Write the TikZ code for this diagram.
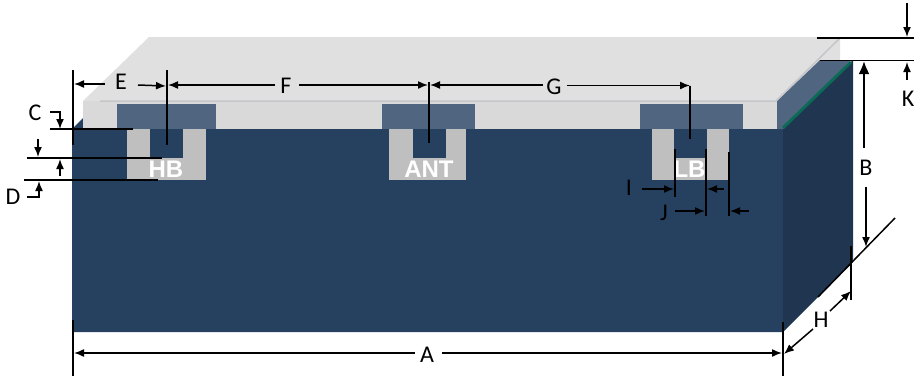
\documentclass[tikz,border=0pt]{standalone}
\usepackage{fontspec}
\setmainfont{Carlito}
\newfontfamily\slotfont{Liberation Sans}
\usetikzlibrary{arrows.meta}
\definecolor{frontc}{HTML}{26405F}
\definecolor{sidec}{HTML}{1F3550}
\definecolor{patchc}{HTML}{50657F}
\definecolor{slotc}{HTML}{BFBFBF}
\definecolor{topc}{HTML}{E0E0E0}
\definecolor{slabc}{HTML}{D9D9D9}
\definecolor{edgec}{HTML}{C4C6CA}
\definecolor{greenc}{HTML}{0B6B57}
\tikzset{
  dimline/.style={draw=black,line width=1.5pt},
  dimarrow/.style={draw=black,line width=1.5pt,-{Latex[length=10pt,width=8pt]}},
  dimlabel/.style={font=\fontsize{24}{24}\selectfont,text=black,inner sep=0pt},
  slotlabel/.style={font=\fontsize{24}{24}\selectfont\slotfont\bfseries,text=white,inner sep=0pt},
}
\begin{document}
\begin{tikzpicture}[x=1pt,y=-1pt]
\useasboundingbox (0,0) rectangle (914,376);
% body
\fill[frontc] (72,129) -- (83,118) -- (83,129) -- (783,129) -- (783,332) -- (72,332) -- cycle;
\fill[sidec] (783,129) -- (853,60) -- (853,262) -- (783,332) -- cycle;
% slab
\fill[topc] (83,101) -- (149,37) -- (840,37) -- (840,60) -- (820,60) -- (777,101) -- cycle;
\fill[patchc] (777,101) -- (820,60) -- (851,60) -- (783,129) -- (777,129) -- cycle;
\fill[slabc] (83,101) rectangle (777,129);
\draw[edgec,line width=1.5pt] (100,101) -- (776,101) -- (840,38);
\draw[greenc,line width=3pt] (783,128) -- (851,62);
% antennas
\foreach \pl/\pr/\sl/\sr/\il/\ir in {117/216/127/206/150/183, 382/475/389/466/413/446, 640/743/652/729/674/707}{
  \fill[patchc] (\pl,104) rectangle (\pr,129);
  \fill[slotc] (\sl,129) rectangle (\sr,180);
  \fill[frontc] (\il,129) rectangle (\ir,158);
}
\node[slotlabel] (hb) at (166,169.5) {HB};
\node[slotlabel] (ant) at (429,169.5) {ANT};
\node[slotlabel] (lb) at (689.5,169.5) {LB};
% labels
\node[dimlabel] (A) at (427,355) {A};
\node[dimlabel] (B) at (866,168) {B};
\node[dimlabel] (C) at (35,113) {C};
\node[dimlabel] (D) at (13,197) {D};
\node[dimlabel] (E) at (121,82) {E};
\node[dimlabel] (F) at (286,86) {F};
\node[dimlabel] (G) at (554,87) {G};
\node[dimlabel] (H) at (821,320) {H};
\node[dimlabel] (I) at (629,188) {I};
\node[dimlabel] (J) at (664,213) {J};
\node[dimlabel] (K) at (908,99) {K};
% extension lines
\draw[dimline] (73,70) -- (73,145);
\draw[dimline] (167,70) -- (167,145);
\draw[dimline] (429,82) -- (429,143);
\draw[dimline] (690,85.5) -- (690,139);
\draw[dimline] (50,129) -- (133,129);
\draw[dimline] (27,158) -- (162,158);
\draw[dimline] (24,180) -- (158,180);
\draw[dimline] (675,149) -- (675,197);
\draw[dimline] (706,149) -- (706,216);
\draw[dimline] (729,152) -- (729,216);
\draw[dimline] (817,38) -- (914,38);
\draw[dimline] (820,60.5) -- (914,60.5);
\draw[dimline] (73,320) -- (73,376);
\draw[dimline] (783,322) -- (783,376);
\draw[dimline] (851,246) -- (851,300);
\draw[dimline] (895,218) -- (818,297);
% dimension arrows
\draw[dimarrow] (105,84) -- (74,84);
\draw[dimarrow] (138,85) -- (166,86);
\draw[dimarrow] (275,85) -- (168,85);
\draw[dimarrow] (299,85) -- (428,85);
\draw[dimarrow] (543,85) -- (430,85);
\draw[dimarrow] (567,85.5) -- (690,85.5);
\draw[dimarrow] (50,112) -- (60,112) -- (60,129);
\draw[dimarrow] (38,139) -- (38,157);
\draw[dimarrow] (60,176) -- (60,159);
\draw[dimarrow] (27,197) -- (39,197) -- (39,181);
\draw[dimarrow] (642,189) -- (674,189);
\draw[dimarrow] (724,189) -- (707,189);
\draw[dimarrow] (675,211) -- (705,211);
\draw[dimarrow] (749,211) -- (730,211);
\draw[dimarrow] (907,3) -- (907,37);
\draw[dimarrow] (907,80) -- (907,62);
\draw[draw=black,line width=2.2pt,-{Latex[length=13pt,width=11pt]}] (864,148) -- (864,61);
\draw[dimarrow] (866,187) -- (866,247);
\draw[dimarrow] (830,311) -- (851,291);
\draw[dimarrow] (813,329) -- (784,354);
\draw[dimarrow] (415,353) -- (74,353);
\draw[dimarrow] (442,353) -- (782,353);
\end{tikzpicture}
\end{document}
